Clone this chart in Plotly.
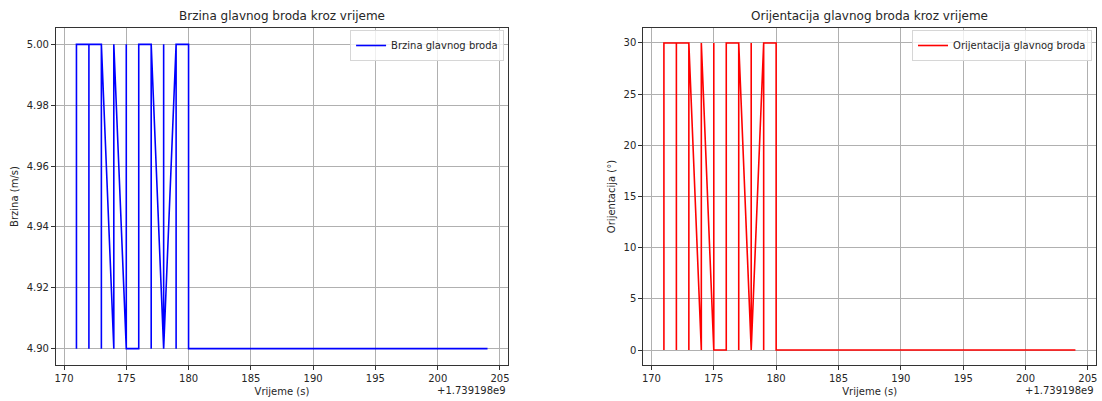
import plotly.graph_objects as go

# Time stamps are epoch seconds; the axis shows them relative to an offset
OFFSET = 1.739198e9
time_s = [
    1739198171, 1739198171, 1739198172, 1739198172, 1739198172, 1739198173,
    1739198173, 1739198173, 1739198174, 1739198174, 1739198175, 1739198175,
    1739198175, 1739198176, 1739198176, 1739198177, 1739198177, 1739198177,
    1739198178, 1739198178, 1739198178, 1739198179, 1739198179, 1739198179,
    1739198180, 1739198180, 1739198204,
]
speed = [
    4.9, 5.0, 5.0, 4.9, 5.0, 5.0,
    4.9, 5.0, 4.9, 5.0, 4.9, 5.0,
    4.9, 4.9, 5.0, 5.0, 4.9, 5.0,
    4.9, 5.0, 4.9, 5.0, 4.9, 5.0,
    5.0, 4.9, 4.9,
]
heading = [
    0, 30, 30, 0, 30, 30,
    0, 30, 0, 30, 0, 30,
    0, 0, 30, 30, 0, 30,
    0, 30, 0, 30, 0, 30,
    30, 0, 0,
]
speed_ticks = [4.90, 4.92, 4.94, 4.96, 4.98, 5.00]
heading_ticks = [0, 5, 10, 15, 20, 25, 30]
time_ticks = [170, 175, 180, 185, 190, 195, 200, 205]

t_rel = [t - OFFSET for t in time_s]

W, H = 1102, 401
FONT = "DejaVu Sans"
TXT = "#262626"

def px_x(p):
    return p / W

def px_y(p):
    return 1 - p / H

fig = go.Figure()
fig.add_trace(go.Scatter(
    x=t_rel, y=speed, mode="lines", name="Brzina glavnog broda",
    line=dict(color="#0000ff", width=1.6), xaxis="x", yaxis="y", legend="legend",
))
fig.add_trace(go.Scatter(
    x=t_rel, y=heading, mode="lines", name="Orijentacija glavnog broda",
    line=dict(color="#ff0000", width=1.6), xaxis="x2", yaxis="y2", legend="legend2",
))

axis_common = dict(
    showgrid=True, gridcolor="#b0b0b0", gridwidth=0.8,
    showline=True, linecolor="#333333", linewidth=1, mirror=True,
    ticks="outside", ticklen=4, tickcolor="#333333", tickwidth=1,
    zeroline=False, tickfont=dict(family=FONT, size=10, color=TXT),
)
label_font = dict(family=FONT, size=10, color=TXT)
legend_style = dict(
    xanchor="right", yanchor="top", bgcolor="rgba(255,255,255,0.8)",
    bordercolor="#d6d6d6", borderwidth=1, itemwidth=30,
    font=dict(family=FONT, size=10, color=TXT),
)

left_dom = [px_x(55), px_x(508)]
right_dom = [px_x(643.5), px_x(1097)]
y_dom = [px_y(365.4), px_y(27.6)]
x_range = [169.35, 205.65]

fig.update_layout(
    width=W, height=H, margin=dict(l=0, r=0, t=0, b=0),
    paper_bgcolor="white", plot_bgcolor="white",
    font=dict(family=FONT, color=TXT),
    xaxis=dict(domain=left_dom, anchor="y", range=x_range, tickvals=time_ticks,
               title=dict(text="Vrijeme (s)", font=label_font, standoff=4), **axis_common),
    yaxis=dict(domain=y_dom, anchor="x", range=[4.8945, 5.0055], tickvals=speed_ticks,
               tickformat=".2f",
               title=dict(text="Brzina (m/s)", font=label_font, standoff=6), **axis_common),
    xaxis2=dict(domain=right_dom, anchor="y2", range=x_range, tickvals=time_ticks,
                title=dict(text="Vrijeme (s)", font=label_font, standoff=4), **axis_common),
    yaxis2=dict(domain=y_dom, anchor="x2", range=[-1.5, 31.5], tickvals=heading_ticks,
                title=dict(text="Orijentacija (°)", font=label_font, standoff=6), **axis_common),
    legend=dict(x=px_x(504), y=px_y(30), **legend_style),
    legend2=dict(x=px_x(1093), y=px_y(30), **legend_style),
    showlegend=True,
)

annotations = [
    dict(text="Brzina glavnog broda kroz vrijeme", x=(left_dom[0] + left_dom[1]) / 2,
         y=px_y(16), xref="paper", yref="paper", showarrow=False,
         font=dict(family=FONT, size=12, color=TXT), xanchor="center", yanchor="middle"),
    dict(text="Orijentacija glavnog broda kroz vrijeme", x=(right_dom[0] + right_dom[1]) / 2,
         y=px_y(16), xref="paper", yref="paper", showarrow=False,
         font=dict(family=FONT, size=12, color=TXT), xanchor="center", yanchor="middle"),
    dict(text="+1.739198e9", x=left_dom[1], y=px_y(390), xref="paper", yref="paper",
         showarrow=False, font=dict(family=FONT, size=10, color=TXT),
         xanchor="right", yanchor="middle"),
    dict(text="+1.739198e9", x=right_dom[1], y=px_y(390), xref="paper", yref="paper",
         showarrow=False, font=dict(family=FONT, size=10, color=TXT),
         xanchor="right", yanchor="middle"),
]
fig.update_layout(annotations=annotations)

fig.write_html("out.html")
